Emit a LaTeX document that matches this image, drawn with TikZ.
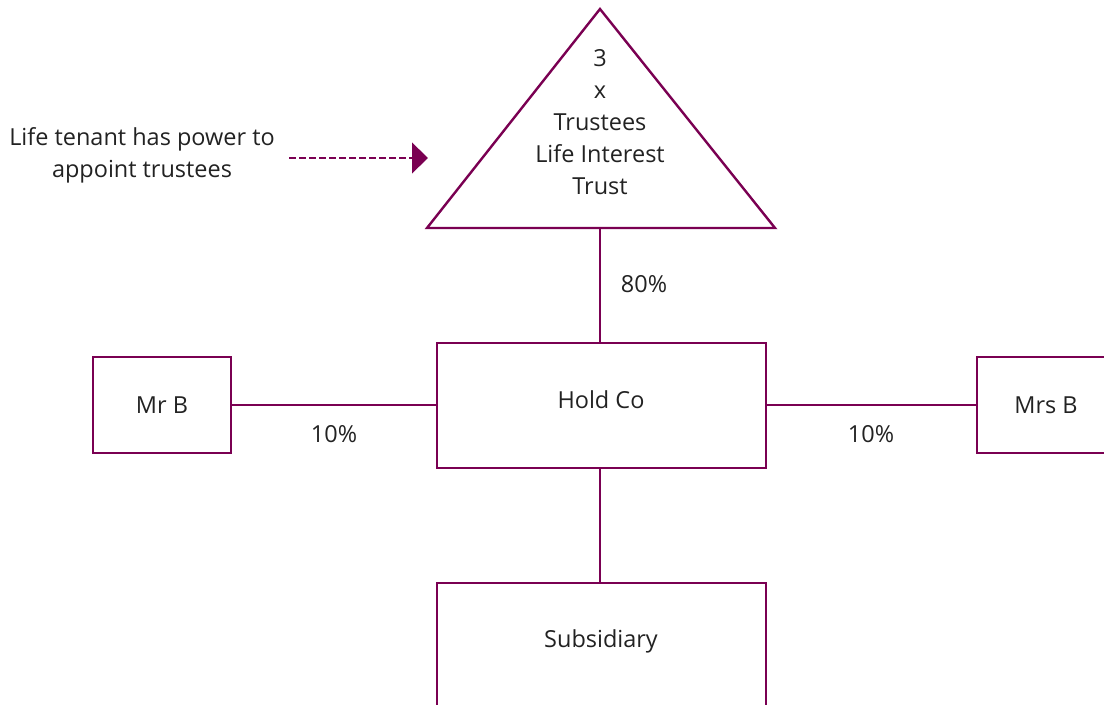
\documentclass[tikz,border=0pt]{standalone}
\usepackage{fontspec}
\setmainfont{Open Sans}
\usepackage{xcolor}
\usetikzlibrary{calc,arrows.meta,positioning}

\definecolor{plum}{RGB}{122,0,82}
\definecolor{ink}{RGB}{34,34,34}

\tikzset{
	bigbox/.style={draw=plum,line width=1.8pt,minimum width=246.75pt,minimum height=93.75pt,inner sep=0pt},
	smallbox/.style={draw=plum,line width=1.8pt,minimum width=103.5pt,minimum height=72pt,inner sep=0pt},
	link/.style={draw=plum,line width=1.6pt},
	pct/.style={inner sep=0pt}
}

\begin{document}
\begin{tikzpicture}[x=0.75pt,y=-0.75pt,font=\fontsize{17.6}{24}\selectfont,text=ink]
			\clip (0,0) rectangle (1104,705);
			
			%trust
			\coordinate (apex) at (600,9);
			\coordinate (trileft) at (427,228);
			\coordinate (triright) at (775,228);
			\coordinate (tribase) at (600,228);
			\draw[plum,line width=1.8pt] (apex) -- (triright) -- (trileft) -- cycle;
			\node[align=center] (trust) at (600,122) {3\\x\\Trustees\\Life Interest\\Trust};
			
			%note
			\node[align=center] (note) at (142,155) {Life tenant has power to\\appoint trustees};
			\coordinate (notestart) at (289,158);
			\coordinate (notetip) at (428,158);
			\draw[plum,line width=1.5pt,dash pattern=on 5.25pt off 2.25pt,-{Triangle[length=12pt,width=23pt]}] (notestart) -- (notetip);
			
			%boxes
			\node[bigbox] (holdco) at (601.5,405.5) {};
			\node (holdcotext) at (601,400) {Hold Co};
			\node[bigbox] (sub) at (601.5,645.5) {};
			\node (subtext) at (601,641) {Subsidiary};
			\node[smallbox] (mrb) at (162,405) {Mr B};
			\node[smallbox] (mrsb) at (1046,405) {Mrs B};
			
			%lines
			\draw[link] (tribase) -- (tribase |- holdco.north);
			\draw[link] (mrb.east) -- (mrb.east -| holdco.west);
			\draw[link] (holdco.east |- mrsb.west) -- (mrsb.west);
			\draw[link] (holdco.south -| tribase) -- (sub.north -| tribase);
			
			\node[pct] (pcttrust) at (644,284) {80\%};
			\node[pct] (pctmrb) at (334,434) {10\%};
			\node[pct] (pctmrsb) at (871,434) {10\%};
		\end{tikzpicture}
\end{document}
